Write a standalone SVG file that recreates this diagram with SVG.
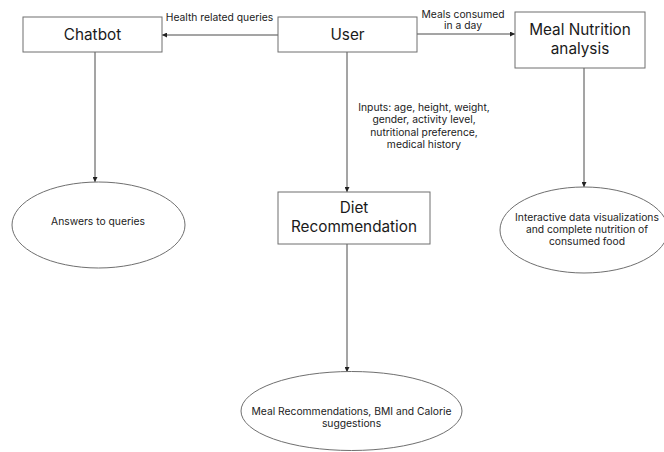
<svg xmlns="http://www.w3.org/2000/svg" width="664" height="452" viewBox="0 0 664 452">
  <style>
    .box { fill: #ffffff; stroke: #6f6f6f; stroke-width: 1; }
    .oval { fill: #ffffff; stroke: #6f6f6f; stroke-width: 1; }
    .title { font-family: Inter, "Liberation Sans", sans-serif; font-size: 15.3px; fill: #1a1a1a; text-anchor: middle; }
    .small { font-family: Inter, "Liberation Sans", sans-serif; font-size: 10.3px; fill: #222222; text-anchor: middle; }
    .edge { stroke: #4a4a4a; stroke-width: 1; fill: none; marker-end: url(#arrow); }
  </style>
  <defs>
    <marker id="arrow" viewBox="0 0 6 6" refX="6" refY="3" markerWidth="5" markerHeight="5" orient="auto" markerUnits="userSpaceOnUse">
      <path d="M0,0 L6,3 L0,6 z" fill="#222222"/>
    </marker>
  </defs>
  <rect width="664" height="452" fill="#ffffff"/>

  <g id="connectors">
    <line class="edge" x1="278" y1="35" x2="162" y2="35"/>
    <line class="edge" x1="417" y1="34" x2="515" y2="34"/>
    <line class="edge" x1="95" y1="52" x2="95" y2="182"/>
    <line class="edge" x1="347" y1="52" x2="347" y2="192"/>
    <line class="edge" x1="584" y1="68" x2="584" y2="187"/>
    <line class="edge" x1="347" y1="244" x2="347" y2="372"/>
    <g id="edge-labels">
      <text class="small" x="219.5" y="20.5">Health related queries</text>
      <text class="small" x="463" y="17.5">Meals consumed</text>
      <text class="small" x="463" y="28.5">in a day</text>
      <text class="small" x="424" y="110.5">Inputs: age, height, weight,</text>
      <text class="small" x="424" y="123">gender, activity level,</text>
      <text class="small" x="424" y="135.5">nutritional preference,</text>
      <text class="small" x="424" y="147.5">medical history</text>
    </g>
  </g>

  <g id="chatbot">
    <rect class="box" x="23" y="17" width="139" height="35"/>
    <text class="title" x="92.5" y="39.5">Chatbot</text>
  </g>

  <g id="user">
    <rect class="box" x="278" y="17" width="139" height="35"/>
    <text class="title" x="347.5" y="39.5">User</text>
  </g>

  <g id="meal-nutrition">
    <rect class="box" x="515" y="12" width="130" height="56"/>
    <text class="title" x="580" y="35">Meal Nutrition</text>
    <text class="title" x="580" y="53.5">analysis</text>
  </g>

  <g id="answers">
    <ellipse class="oval" cx="98.5" cy="225" rx="86.5" ry="43"/>
    <text class="small" x="98" y="224.5">Answers to queries</text>
  </g>

  <g id="diet">
    <rect class="box" x="278" y="192" width="152" height="52"/>
    <text class="title" x="354" y="213">Diet</text>
    <text class="title" x="354" y="232">Recommendation</text>
  </g>

  <g id="visualizations">
    <ellipse class="oval" cx="584" cy="230" rx="84" ry="43"/>
    <text class="small" x="587" y="220.5">Interactive data visualizations</text>
    <text class="small" x="587" y="232.5">and complete nutrition of</text>
    <text class="small" x="587" y="245">consumed food</text>
  </g>

  <g id="meal-recommendations">
    <ellipse class="oval" cx="351.5" cy="411" rx="110.5" ry="39.5"/>
    <text class="small" x="351.5" y="415">Meal Recommendations, BMI and Calorie</text>
    <text class="small" x="351.5" y="427">suggestions</text>
  </g>
</svg>
